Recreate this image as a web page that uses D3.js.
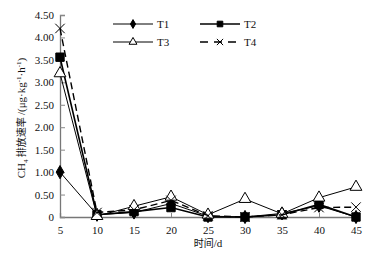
<!DOCTYPE html>
<html>
<head>
<meta charset="utf-8">
<script src="https://cdn.jsdelivr.net/npm/d3@7"></script>
<style>
  body { margin: 0; background: #fff; }
  svg text { font-family: "Liberation Serif", "Times New Roman", serif; fill: #111; }
  .cjk { font-family: "Noto Sans CJK SC", sans-serif; }
</style>
</head>
<body>
<div id="chart"></div>
<script>
// sampling days and CH4 emission rates per treatment
const days = [5, 10, 15, 20, 25, 30, 35, 40, 45];
const t1 = [1.00, 0.05, 0.10, 0.30, 0.02, 0.00, 0.08, 0.25, 0.00];
const t2 = [3.56, 0.05, 0.12, 0.21, 0.00, 0.00, 0.05, 0.28, 0.00];
const t3 = [3.20, 0.02, 0.24, 0.45, 0.05, 0.40, 0.07, 0.43, 0.67];
const t4 = [4.20, 0.10, 0.16, 0.37, 0.03, 0.00, 0.05, 0.21, 0.22];
const yTicks = [0, 0.5, 1, 1.5, 2, 2.5, 3, 3.5, 4, 4.5];

const width = 374, height = 255;
const margin = { top: 15, right: 18, bottom: 38, left: 60 };

const svg = d3.select('#chart').append('svg')
  .attr('width', width)
  .attr('height', height);

const x = d3.scaleLinear().domain([5, 45]).range([margin.left, width - margin.right]);
const y = d3.scaleLinear().domain([0, 4.5]).range([height - margin.bottom, margin.top]);

// axes, ticks pointing inward
const xAxis = svg.append('g')
  .attr('transform', `translate(0,${y(0)})`)
  .call(d3.axisBottom(x).tickValues(days).tickSize(-4).tickPadding(7).tickFormat(d3.format('d')));
const yAxis = svg.append('g')
  .attr('transform', `translate(${x(5)},0)`)
  .call(d3.axisLeft(y).tickValues(yTicks).tickSize(-5).tickPadding(6)
    .tickFormat(d => d === 0 ? '0' : d3.format('.2f')(d)));
[xAxis, yAxis].forEach(g => {
  g.select('.domain').attr('stroke', '#777').attr('stroke-width', 1.3);
  g.selectAll('.tick line').attr('stroke', '#888');
  g.selectAll('text').attr('font-size', 11).attr('font-family', '"Liberation Serif", serif').attr('fill', '#111');
});
xAxis.selectAll('.tick text').attr('dy', '0.9em');

// axis titles
svg.append('text')
  .attr('x', 208).attr('y', 247)
  .attr('text-anchor', 'middle')
  .attr('font-size', 11)
  .html('<tspan class="cjk" font-size="10">时间</tspan>/d');

const yt = svg.append('text')
  .attr('transform', `translate(25,${(margin.top + y(0)) / 2 + 2}) rotate(-90)`)
  .attr('text-anchor', 'middle')
  .attr('font-size', 11);
yt.append('tspan').text('CH');
yt.append('tspan').attr('font-size', 7).attr('dy', 3).text('4');
yt.append('tspan').attr('class', 'cjk').attr('font-size', 10).attr('dy', -3).text(' 排放速率 ');
yt.append('tspan').text('/(μg·kg');
yt.append('tspan').attr('font-size', 7).attr('dy', -4).text('-1');
yt.append('tspan').attr('dy', 4).text('·h');
yt.append('tspan').attr('font-size', 7).attr('dy', -4).text('-1');
yt.append('tspan').attr('dy', 4).text(')');

const series = [
  { name: 'T1', values: t1, symbol: d3.symbolDiamond, size: 50, fill: '#000', dash: null, width: 1 },
  { name: 'T2', values: t2, symbol: d3.symbolSquare, size: 70, fill: '#000', dash: null, width: 1.6 },
  { name: 'T3', values: t3, symbol: d3.symbolTriangle, size: 60, fill: '#fff', dash: null, width: 1 },
  { name: 'T4', values: t4, symbol: d3.symbolX, size: 60, fill: 'none', dash: '7,4', width: 1.4 }
];

const line = d3.line().x(d => x(d[0])).y(d => y(d[1]));

function drawMarker(g, s, cx, cy, k = 1) {
  g.append('path')
    .attr('d', d3.symbol().type(s.symbol).size(s.size * k)())
    .attr('transform', `translate(${cx},${cy})`)
    .attr('fill', s.fill)
    .attr('stroke', '#000')
    .attr('stroke-width', 1);
}

series.forEach(s => {
  const pts = days.map((d, i) => [d, s.values[i]]);
  svg.append('path')
    .datum(pts)
    .attr('d', line)
    .attr('fill', 'none')
    .attr('stroke', '#000')
    .attr('stroke-width', s.width)
    .attr('stroke-dasharray', s.dash);
  const g = svg.append('g');
  pts.forEach(p => drawMarker(g, s, x(p[0]), y(p[1])));
});

// legend, two columns
const legendPos = [[113, 24], [200, 24], [113, 42], [200, 42]];
series.forEach((s, i) => {
  const [lx, ly] = legendPos[i];
  const g = svg.append('g');
  g.append('line')
    .attr('x1', lx).attr('x2', lx + 40)
    .attr('y1', ly).attr('y2', ly)
    .attr('stroke', '#000')
    .attr('stroke-width', s.width)
    .attr('stroke-dasharray', s.dash ? '8,6' : null);
  drawMarker(g, s, lx + 20, ly, 0.45);
  g.append('text')
    .attr('x', lx + 44).attr('y', ly + 4)
    .attr('font-size', 11)
    .text(s.name);
});
</script>
</body>
</html>
